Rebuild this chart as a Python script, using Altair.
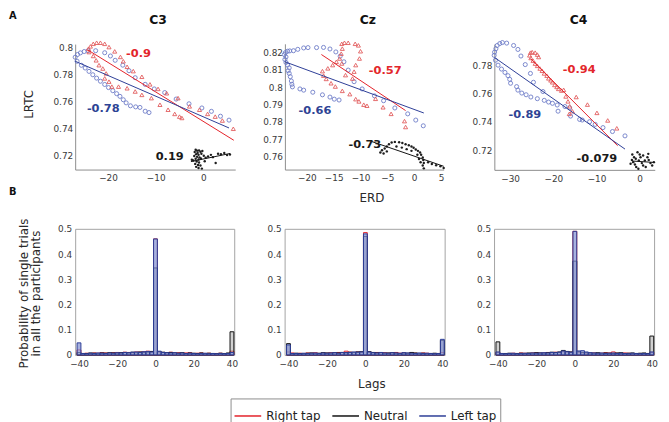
import altair as alt
import pandas as pd

W, H = 661, 414
FONT = "DejaVu Sans"

# ---------------- data: panel A (ERD vs LRTC) ----------------
C3_LEFT = [(-26.9,0.7930),(-26.4,0.7950),(-25.8,0.7962),(-25.0,0.7972),(-24.2,0.7978),(-22.6,0.7978),
           (-20.7,0.7963),(-19.5,0.7939),(-18.5,0.7907),(-16.9,0.7871),(-15.6,0.7830),(-14.3,0.7778),
           (-12.2,0.7729),(-10.3,0.7695),(-8.1,0.7668),(-5.7,0.7620),(-3.0,0.7585),(-0.3,0.7554),
           (1.7,0.7529),(3.6,0.7493),(5.4,0.7464),
           (-26.5,0.7900),(-25.6,0.7870),(-24.8,0.7850),(-24.0,0.7825),(-23.2,0.7800),(-22.4,0.7775),
           (-21.6,0.7752),(-20.7,0.7728),(-19.9,0.7705),(-19.0,0.7682),(-18.2,0.7660),(-17.5,0.7640),
           (-16.8,0.7615),(-16.2,0.7592),(-15.3,0.7570),(-14.2,0.7562),(-13.3,0.7558),(-12.2,0.7530),(-11.4,0.7520)]
C3_RIGHT = [(-24.1,0.7993),(-23.7,0.8010),(-23.1,0.8029),(-22.4,0.8037),(-21.6,0.8037),(-20.7,0.8029),
            (-19.8,0.8005),(-18.6,0.7973),(-17.4,0.7932),(-16.8,0.7900),(-16.0,0.7859),(-14.7,0.7827),
            (-12.9,0.7785),(-11.2,0.7729),(-9.5,0.7695),(-7.7,0.7663),(-5.3,0.7627),(-2.9,0.7566),
            (-0.8,0.7541),(0.9,0.7510),(2.5,0.7490),(4.0,0.7461),(6.3,0.7400),
            (-24.0,0.7968),(-23.1,0.7939),(-22.5,0.7907),(-21.9,0.7871),(-21.1,0.7846),(-20.4,0.7810),
            (-20.7,0.7773),(-19.8,0.7749),(-19.2,0.7712),(-17.8,0.7712),(-16.0,0.7700),(-14.3,0.7676),
            (-12.9,0.7651),(-10.9,0.7627),(-9.1,0.7578),(-7.4,0.7541),(-6.0,0.7510),(-5.0,0.7490),(-4.5,0.7480)]
C3_NEUTRAL = [(-1.6,0.7245),(-1.3,0.7238),(-0.9,0.7240),(-1.8,0.7228),(-1.2,0.7222),(-0.6,0.7230),
              (-1.5,0.7212),(-1.0,0.7208),(-0.4,0.7215),(-1.9,0.7198),(-1.3,0.7192),(-0.8,0.7188),
              (-1.6,0.7178),(-1.0,0.7172),(-0.5,0.7180),(-2.1,0.7165),(-1.4,0.7158),(-0.9,0.7150),
              (-1.7,0.7140),(-1.1,0.7132),(-0.6,0.7128),(-1.5,0.7118),(-1.0,0.7110),(-0.3,0.7105),
              (-2.4,0.7170),(0.1,0.7200),(0.5,0.7185),(1.0,0.7195),(1.6,0.7207),(2.6,0.7146),
              (3.1,0.7215),(3.7,0.7212),(4.4,0.7220),(5.0,0.7205),(5.6,0.7210),(0.3,0.7160),
              (-0.2,0.7235),(2.0,0.7190)]

CZ_LEFT = [(-24.2,0.8189),(-24.0,0.8200),(-23.6,0.8208),(-23.2,0.8210),(-23.9,0.8175),(-24.1,0.8160),
           (-23.9,0.8143),(-23.6,0.8128),(-23.3,0.8112),(-23.5,0.8095),(-23.3,0.8080),(-23.1,0.8061),
           (-22.9,0.8036),(-22.8,0.8017),(-22.7,0.8002),
           (-22.5,0.8211),(-21.7,0.8219),(-20.6,0.8227),(-19.8,0.8229),(-18.2,0.8229),(-16.9,0.8230),
           (-15.7,0.8221),(-14.6,0.8204),(-13.8,0.8179),
           (-21.3,0.7990),(-20.6,0.7983),(-18.9,0.7971),(-17.1,0.7956),(-15.7,0.7943),(-14.9,0.7931),(-14.0,0.7926),
           (-13.1,0.8147),(-12.3,0.8099),(-11.2,0.8032),(-9.7,0.7990),(-7.4,0.7950),(-5.7,0.7922),
           (-3.6,0.7880),(-1.2,0.7846),(0.3,0.7810),(1.7,0.7777)]
CZ_RIGHT = [(-13.5,0.8251),(-13.0,0.8257),(-12.3,0.8257),(-11.0,0.8251),(-10.4,0.8242),(-10.0,0.8208),
            (-10.2,0.8166),(-10.9,0.8128),(-11.2,0.8090),(-11.5,0.8050),(-13.5,0.8137),(-12.8,0.8070),
            (-13.4,0.8223),(-13.6,0.8194),(-13.9,0.8166),(-14.5,0.8147),(-15.2,0.8128),(-16.1,0.8109),
            (-17.1,0.8093),(-16.9,0.8067),(-16.4,0.8048),(-15.5,0.8023),(-14.7,0.8004),(-13.4,0.7979),
            (-12.0,0.7960),(-10.9,0.7931),(-10.3,0.7918),(-9.4,0.7899),(-8.8,0.7893),
            (-7.2,0.7933),(-5.8,0.7884),(-4.3,0.7846),(-1.8,0.7804),(-1.6,0.7770)]
CZ_NEUTRAL = [(-6.3,0.7623),(-6.0,0.7636),(-5.5,0.7646),(-5.1,0.7657),(-4.7,0.7670),(-4.2,0.7680),
              (-3.6,0.7684),(-2.8,0.7682),(-2.2,0.7678),(-1.6,0.7670),(-1.0,0.7665),(-0.5,0.7657),
              (-0.1,0.7650),(0.3,0.7640),(0.7,0.7632),(1.1,0.7623),(1.3,0.7610),(1.6,0.7594),
              (1.7,0.7579),(1.8,0.7562),(1.6,0.7547),(1.8,0.7531),(2.6,0.7566),(3.3,0.7556),
              (4.1,0.7549),(4.9,0.7543),(5.5,0.7533),(-5.7,0.7617),(-5.1,0.7629),(-3.3,0.7657),
              (-2.3,0.7651),(-1.4,0.7642),(-0.5,0.7632),(0.6,0.7610),(0.9,0.7585),(1.2,0.7566)]

C4_LEFT = [(-33.7,0.7875),(-33.6,0.7898),(-33.3,0.7922),(-33.0,0.7945),(-32.4,0.7959),(-31.8,0.7966),
           (-30.8,0.7962),(-29.2,0.7945),(-28.2,0.7917),(-27.5,0.7870),(-26.5,0.7809),(-25.3,0.7746),
           (-24.6,0.7683),(-22.4,0.7617),
           (-33.4,0.7840),(-32.8,0.7805),(-32.0,0.7777),(-31.2,0.7753),(-30.5,0.7730),(-30.1,0.7704),
           (-29.9,0.7676),(-28.5,0.7652),(-28.2,0.7627),(-27.3,0.7606),(-26.3,0.7594),(-25.2,0.7578),
           (-23.7,0.7566),(-22.1,0.7554),(-21.1,0.7542),(-20.2,0.7533),(-19.1,0.7521),(-18.9,0.7477),
           (-17.3,0.7510),(-16.2,0.7500),(-16.0,0.7442),(-13.9,0.7418),(-13.3,0.7414),(-11.6,0.7402),
           (-10.3,0.7383),(-8.5,0.7360),(-6.3,0.7332),(-3.4,0.7301)]
C4_RIGHT = [(-25.5,0.7875),(-25.3,0.7894),(-24.9,0.7898),(-24.2,0.7894),(-23.7,0.7880),(-23.4,0.7863),
            (-25.2,0.7856),(-24.7,0.7837),(-24.2,0.7816),(-23.7,0.7800),(-23.1,0.7781),(-22.6,0.7765),
            (-22.1,0.7746),(-21.5,0.7730),(-21.1,0.7711),(-20.6,0.7697),(-20.2,0.7683),(-19.7,0.7664),
            (-19.2,0.7650),(-18.8,0.7636),(-18.1,0.7624),(-17.6,0.7629),(-17.1,0.7582),(-16.6,0.7547),
            (-16.2,0.7512),(-15.6,0.7477),(-16.3,0.7458),
            (-14.7,0.7578),(-12.1,0.7524),(-9.9,0.7465),(-7.4,0.7411),(-5.3,0.7355)]
C4_NEUTRAL = [(-1.7,0.7168),(-1.3,0.7149),(-1.8,0.7130),(-1.5,0.7114),(-1.1,0.7097),(-0.8,0.7079),
              (-0.3,0.7067),(-0.5,0.7184),(0.0,0.7168),(0.2,0.7149),(-0.2,0.7126),(0.5,0.7107),
              (0.8,0.7090),(1.2,0.7126),(1.8,0.7149),(2.1,0.7130),(2.5,0.7107),(2.9,0.7090),
              (3.3,0.7114),(1.4,0.7079),(-0.9,0.7138),(0.8,0.7161),(-2.1,0.7102),(2.0,0.7173)]

# regression line end points (Right, Neutral, Left)
C3_FITS = {"Right tap": [(-24.3,0.7985),(6.4,0.7315)], "Neutral": [(-2.6,0.7157),(5.6,0.7217)],
           "Left tap": [(-26.9,0.7900),(5.4,0.7406)]}
CZ_FITS = {"Right tap": [(-17.3,0.8189),(-1.6,0.7865)], "Neutral": [(-7.9,0.7686),(5.5,0.7543)],
           "Left tap": [(-24.1,0.8147),(1.8,0.7851)]}
C4_FITS = {"Right tap": [(-25.3,0.7852),(-5.1,0.7231)], "Neutral": [(-1.8,0.7122),(3.3,0.7112)],
           "Left tap": [(-33.6,0.7859),(-3.4,0.7207)]}

# correlation labels: (text, x, y, series)
C3_LABELS = [("-0.9", -13.6, 0.7956, "Right tap"), ("-0.78", -21.0, 0.7549, "Left tap"), ("0.19", -7.05, 0.7188, "Neutral")]
CZ_LABELS = [("-0.57", -5.4, 0.8095, "Right tap"), ("-0.66", -18.5, 0.7865, "Left tap"), ("-0.73", -9.2, 0.7665, "Neutral")]
C4_LABELS = [("-0.94", -14.0, 0.7770, "Right tap"), ("-0.89", -26.6, 0.7453, "Left tap"), ("-0.079", -9.9, 0.7137, "Neutral")]

# ---------------- data: panel B (lag histograms) ----------------
LAGS = list(range(-40, 41, 2))
H_C3_RIGHT = [0.020,0.006,0.007,0.006,0.008,0.007,0.009,0.008,0.007,0.009,0.010,0.008,0.011,0.010,0.009,0.012,0.011,0.013,0.015,0.012,
              0.460,0.012,0.010,0.009,0.011,0.008,0.009,0.007,0.008,0.009,0.006,0.007,0.008,0.006,0.007,0.005,0.006,0.007,0.005,0.006,0.015]
H_C3_NEUTRAL = [0.010,0.005,0.006,0.008,0.007,0.006,0.008,0.007,0.009,0.008,0.007,0.009,0.010,0.008,0.011,0.009,0.012,0.010,0.011,0.014,
                0.345,0.013,0.011,0.009,0.010,0.008,0.007,0.009,0.006,0.008,0.007,0.006,0.008,0.005,0.007,0.006,0.005,0.007,0.006,0.008,0.092]
H_C3_LEFT = [0.048,0.006,0.005,0.007,0.006,0.008,0.007,0.006,0.008,0.007,0.009,0.008,0.010,0.009,0.011,0.012,0.010,0.013,0.014,0.012,
             0.460,0.015,0.010,0.009,0.008,0.009,0.007,0.008,0.006,0.007,0.006,0.005,0.006,0.007,0.005,0.006,0.005,0.006,0.005,0.006,0.010]
H_CZ_RIGHT = [0.012,0.008,0.006,0.007,0.006,0.008,0.007,0.009,0.006,0.008,0.007,0.009,0.008,0.010,0.009,0.015,0.011,0.010,0.012,0.011,
              0.485,0.012,0.009,0.010,0.008,0.009,0.007,0.008,0.010,0.007,0.008,0.006,0.009,0.007,0.006,0.008,0.007,0.006,0.005,0.006,0.010]
H_CZ_NEUTRAL = [0.045,0.005,0.007,0.006,0.005,0.007,0.008,0.006,0.007,0.009,0.008,0.007,0.009,0.008,0.010,0.009,0.011,0.010,0.012,0.013,
                0.470,0.013,0.010,0.008,0.009,0.007,0.008,0.009,0.007,0.006,0.008,0.007,0.010,0.008,0.006,0.007,0.005,0.006,0.007,0.005,0.058]
H_CZ_LEFT = [0.040,0.006,0.006,0.005,0.007,0.006,0.007,0.008,0.006,0.008,0.007,0.008,0.009,0.007,0.010,0.009,0.010,0.012,0.011,0.012,
             0.480,0.012,0.009,0.008,0.010,0.008,0.007,0.009,0.008,0.007,0.009,0.008,0.007,0.006,0.008,0.006,0.007,0.006,0.005,0.006,0.062]
H_C4_RIGHT = [0.010,0.006,0.005,0.006,0.007,0.006,0.008,0.007,0.006,0.008,0.009,0.007,0.008,0.010,0.009,0.011,0.010,0.013,0.012,0.011,
              0.490,0.011,0.009,0.008,0.007,0.008,0.006,0.007,0.009,0.008,0.012,0.007,0.006,0.008,0.007,0.006,0.005,0.006,0.005,0.006,0.010]
H_C4_NEUTRAL = [0.052,0.005,0.006,0.007,0.005,0.006,0.007,0.006,0.008,0.007,0.009,0.008,0.007,0.009,0.011,0.010,0.012,0.018,0.014,0.012,
                0.372,0.013,0.010,0.009,0.008,0.007,0.009,0.006,0.008,0.007,0.006,0.008,0.009,0.006,0.007,0.008,0.006,0.007,0.008,0.006,0.075]
H_C4_LEFT = [0.012,0.006,0.005,0.006,0.007,0.005,0.006,0.007,0.006,0.008,0.007,0.008,0.009,0.008,0.010,0.009,0.011,0.016,0.013,0.011,
             0.490,0.016,0.017,0.012,0.009,0.008,0.007,0.008,0.006,0.007,0.008,0.006,0.007,0.006,0.005,0.007,0.006,0.005,0.006,0.005,0.012]

SERIES = ["Right tap", "Neutral", "Left tap"]
LINE_COLORS = {"Right tap": "#e42128", "Neutral": "#111111", "Left tap": "#2c3d96"}
TEXT_COLORS = {"Right tap": "#e3262b", "Neutral": "#1a1a1a", "Left tap": "#2e4394"}
PT_BLUE, PT_RED = "#6e7cc8", "#e25c5e"

# ---------------- layout (pixel ranges of each panel) ----------------
TOP = {
    "C3": dict(xd=[-26.9, 6.7], xr=[68, 230], yd=[0.7098, 0.8027], yr=[161, 34],
               xt=[-20, -10, 0], yt=[0.72, 0.74, 0.76, 0.78, 0.80], tx=151.3),
    "Cz": dict(xd=[-24.1, 5.5], xr=[280.3, 441], yd=[0.7524, 0.8251], yr=[161, 33.7],
               xt=[-20, -15, -10, -5, 0, 5], yt=[0.76, 0.77, 0.78, 0.79, 0.80, 0.81, 0.82], tx=363.7),
    "C4": dict(xd=[-33.66, 3.5], xr=[492.3, 654.7], yd=[0.7059, 0.7955], yr=[161.3, 34],
               xt=[-30, -20, -10, 0], yt=[0.72, 0.74, 0.76, 0.78], tx=577),
}
BOT = {"C3": [68, 229], "Cz": [280, 442], "C4": [492, 654]}
BOT_XD, BOT_YD, BOT_YR = [-42.0, 41.2], [0, 0.5], [348.7, 221]

STROKE_SCALE = alt.Scale(domain=SERIES, range=[LINE_COLORS[s] for s in SERIES])
LEGEND = alt.Legend(orient="none", legendX=225.3, legendY=392.7, direction="horizontal", title=None,
                    symbolType="stroke", symbolSize=729, symbolStrokeWidth=1.5,
                    labelFont=FONT, labelFontSize=12, labelColor="#222222", labelOffset=4,
                    columnPadding=8, padding=3, strokeColor="#8c8c8c", fillColor="white", labelLimit=200)


def ax(**kw):
    base = dict(grid=False, ticks=False, domainColor="#8c8c8c", domainWidth=1, labelFont=FONT,
                labelFontSize=9, labelColor="#3a3a3a", labelFlush=False, labelOverlap=False,
                titleFont=FONT, titleFontSize=12, titleColor="#2a2a2a", titleFontWeight="normal", title=None)
    base.update(kw)
    return alt.Axis(**base)


def pts(lst):
    return pd.DataFrame(lst, columns=["x", "y"])


layers = []


def top_panel(key, left, right, neutral, fits, labels, xtitle=None, ytitle=None):
    p = TOP[key]
    xs = alt.Scale(domain=p["xd"], range=p["xr"], zero=False, nice=False)
    ys = alt.Scale(domain=p["yd"], range=p["yr"], zero=False, nice=False)
    X0 = alt.X("x:Q", scale=xs, axis=None)
    Y0 = alt.Y("y:Q", scale=ys, axis=None)
    xkw = dict(orient="bottom", offset=p["yr"][0] - H, values=p["xt"], format="d", labelPadding=4.5)
    if xtitle:
        xkw.update(title=xtitle, titleX=367.8, titleY=32.5, titleBaseline="alphabetic", titleAlign="center")
    ykw = dict(orient="left", offset=-p["xr"][0], values=p["yt"], format=".2~f", labelPadding=2.5)
    if ytitle:
        ykw.update(title=ytitle, titleX=-43, titleY=94.5, titleAngle=270, titleBaseline="alphabetic",
                   titleAlign="center")
    layers.append(alt.Chart(pts(left)).mark_point(shape="circle", filled=False, size=17, strokeWidth=0.9,
                                                  color=PT_BLUE, opacity=1).encode(
        x=alt.X("x:Q", scale=xs, axis=ax(**xkw)), y=alt.Y("y:Q", scale=ys, axis=ax(**ykw))))
    top_axis = ax(orient="top", offset=0, domain=False, labels=False, title=key, titleX=p["tx"], titleY=9.3,
                  titleFontSize=12.5, titleFontWeight="bold", titleColor="#111111", titleBaseline="middle",
                  titleAlign="center", titleAngle=0)
    layers.append(alt.Chart(pts(right)).mark_point(shape="triangle-up", filled=False, size=17, strokeWidth=0.9,
                                                   color=PT_RED, opacity=1).encode(
        x=alt.X("x:Q", scale=xs, axis=top_axis), y=Y0))
    layers.append(alt.Chart(pts(neutral)).mark_circle(size=6, color="#1e1e1e", opacity=1).encode(x=X0, y=Y0))
    rows = [dict(x=x, y=y, g=s, c=LINE_COLORS[s]) for s, ends in fits.items() for (x, y) in ends]
    layers.append(alt.Chart(pd.DataFrame(rows)).mark_line(strokeWidth=1).encode(
        x=X0, y=Y0, detail="g:N", color=alt.Color("c:N", scale=None)))
    lab = pd.DataFrame([dict(t=t, x=x, y=y, c=TEXT_COLORS[s]) for t, x, y, s in labels])
    layers.append(alt.Chart(lab).mark_text(font=FONT, fontSize=11.5, fontWeight="bold", align="center",
                                           baseline="middle").encode(
        x=X0, y=Y0, text="t:N", color=alt.Color("c:N", scale=None)))
    return xs, ys


def bot_panel(key, right, neutral, left, xtitle=None, ytitle=None):
    xr = BOT[key]
    xs = alt.Scale(domain=BOT_XD, range=xr, zero=False, nice=False)
    ys = alt.Scale(domain=BOT_YD, range=BOT_YR, zero=False, nice=False)
    box = dict(domainColor="#a3a3a3")
    xkw = dict(orient="bottom", offset=BOT_YR[0] - H, values=[-40, -20, 0, 20, 40], format="d",
               labelPadding=4.5, **box)
    if xtitle:
        xkw.update(title=xtitle, titleX=367.8, titleY=32.6, titleBaseline="alphabetic", titleAlign="center")
    ykw = dict(orient="left", offset=-xr[0], values=[0, 0.1, 0.2, 0.3, 0.4, 0.5], format=".1~f",
               labelPadding=3.5, **box)
    if ytitle:
        ykw.update(title=ytitle, titleX=-48, titleY=286, titleAngle=270, titleBaseline="alphabetic",
                   titleAlign="center", titleLineHeight=11.5)
    specs = [
        (right, "Right tap", "white", 0.0,
         ax(orient="top", offset=-BOT_YR[1], labels=False, **box),
         ax(orient="right", offset=xr[1] - W, labels=False, **box)),
        (neutral, "Neutral", "#9a9a9a", 0.45, None, None),
        (left, "Left tap", "#8190d2", 0.7, ax(**xkw), ax(**ykw)),
    ]
    for vals, s, fill, fop, xa, ya in specs:
        df = pd.DataFrame({"lag": LAGS, "v": vals, "s": s})
        layers.append(alt.Chart(df).transform_calculate(
            x0="datum.lag - 1", x1="datum.lag + 1", base="0").mark_bar(
            fill=fill, fillOpacity=fop, strokeWidth=1).encode(
            x=alt.X("x0:Q", scale=xs, axis=xa), x2="x1:Q",
            y=alt.Y("v:Q", scale=ys, axis=ya), y2="base:Q",
            stroke=alt.Stroke("s:N", scale=STROKE_SCALE, legend=LEGEND)))
    return xs, ys


c3x, c3y = top_panel("C3", C3_LEFT, C3_RIGHT, C3_NEUTRAL, C3_FITS, C3_LABELS, ytitle="LRTC")
top_panel("Cz", CZ_LEFT, CZ_RIGHT, CZ_NEUTRAL, CZ_FITS, CZ_LABELS, xtitle="ERD")
top_panel("C4", C4_LEFT, C4_RIGHT, C4_NEUTRAL, C4_FITS, C4_LABELS)
b3x, b3y = bot_panel("C3", H_C3_RIGHT, H_C3_NEUTRAL, H_C3_LEFT,
                     ytitle=["Probability of single trials", "in all the participants"])
bot_panel("Cz", H_CZ_RIGHT, H_CZ_NEUTRAL, H_CZ_LEFT, xtitle="Lags")
bot_panel("C4", H_C4_RIGHT, H_C4_NEUTRAL, H_C4_LEFT)

# panel letters (placed in the C3 panels' data coordinates)
layers.append(alt.Chart(pd.DataFrame([dict(t="A", x=-40.0, y=0.8272)])).mark_text(
    font=FONT, fontSize=10, fontWeight="bold", baseline="top", align="center", color="#111111").encode(
    x=alt.X("x:Q", scale=c3x, axis=None), y=alt.Y("y:Q", scale=c3y, axis=None), text="t:N"))
layers.append(alt.Chart(pd.DataFrame([dict(t="B", x=-74.6, y=0.646)])).mark_text(
    font=FONT, fontSize=10, fontWeight="bold", baseline="middle", align="center", color="#111111").encode(
    x=alt.X("x:Q", scale=b3x, axis=None), y=alt.Y("y:Q", scale=b3y, axis=None), text="t:N"))

chart = alt.layer(*layers).resolve_scale(x="independent", y="independent").properties(
    width=W, height=H, autosize=alt.AutoSizeParams(type="none"), padding=0
).configure_view(stroke=None)

chart.save("out.html", embed_options={"renderer": "svg", "actions": False})
